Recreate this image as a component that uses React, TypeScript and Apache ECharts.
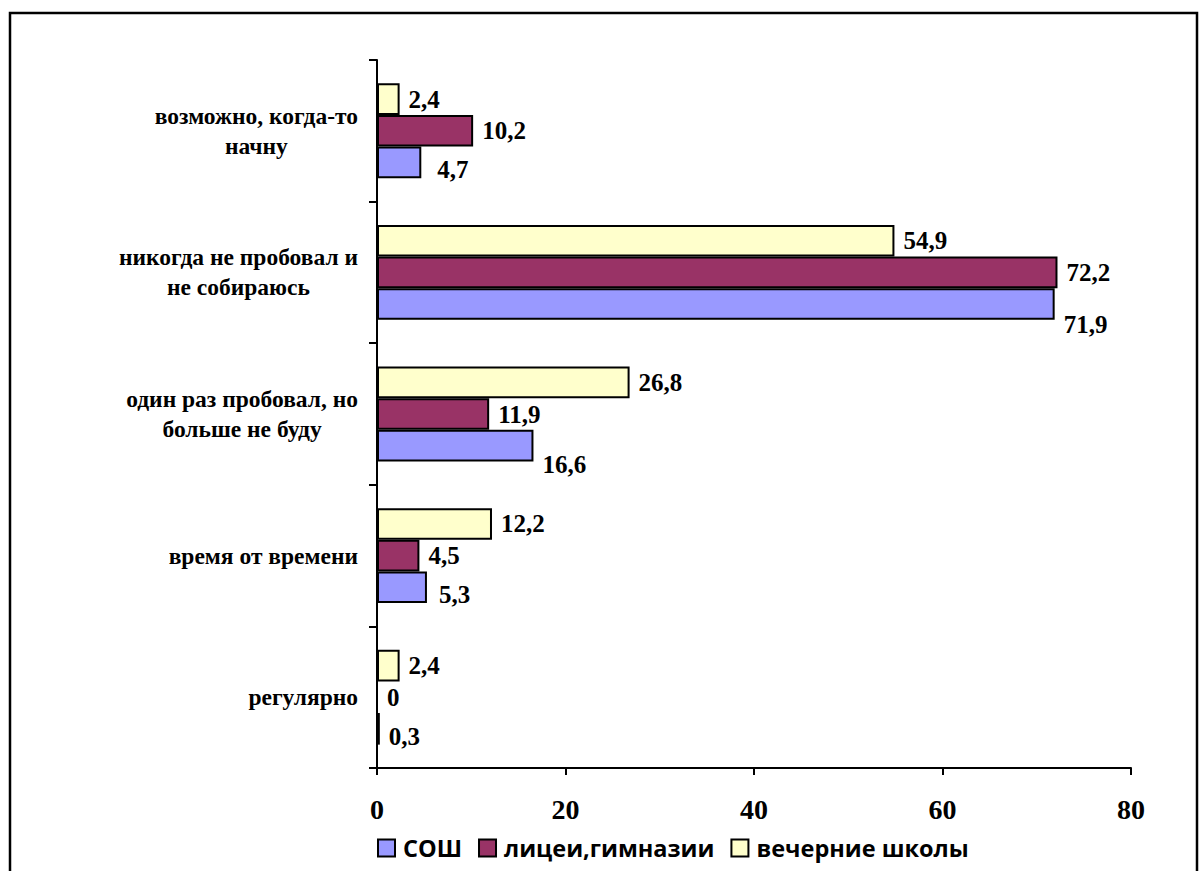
import React, { useEffect, useRef } from "react";
import * as echarts from "echarts";

const categories = [
  "регулярно",
  "время от времени",
  "один раз пробовал, но\nбольше не буду",
  "никогда не пробовал и\nне собираюсь",
  "возможно, когда-то\nначну",
];
const seriesNames = ["СОШ", "лицеи,гимназии", "вечерние школы"];
const soshValues = [0.3, 5.3, 16.6, 71.9, 4.7];
const liceiValues = [0, 4.5, 11.9, 72.2, 10.2];
const vechernieValues = [2.4, 12.2, 26.8, 54.9, 2.4];
const xTicks = { min: 0, max: 80, interval: 20 };

const colors = ["#9999FF", "#993366", "#FFFFCC"];
// label nudges for the first series (as placed in the original)
const soshLabelNudge = [[0, 8], [3, 7], [0, 19], [0, 20], [7, 7]];

const serif = "'Liberation Serif', 'Times New Roman', serif";

export default function App() {
  const ref = useRef<HTMLDivElement>(null);
  useEffect(() => {
    if (!ref.current) return;
    const chart = echarts.init(ref.current, null, { renderer: "svg" });
    const fmt = (p: any) => String(p.value).replace(".", ",");
    const labelBase = {
      show: true,
      position: "right" as const,
      distance: 9,
      color: "#000",
      fontFamily: serif,
      fontWeight: "bold" as const,
      fontSize: 25,
      formatter: fmt,
    };
    const allValues = [soshValues, liceiValues, vechernieValues];
    const series = allValues
      .map((vals, si) => ({
        name: seriesNames[si],
        type: "bar",
        barGap: "0%",
        barCategoryGap: "33%",
        itemStyle: { color: colors[si], borderColor: "#000", borderWidth: 2 },
        label: labelBase,
        data: vals.map((v, i) =>
          si === 0 ? { value: v, label: { offset: soshLabelNudge[i] } } : v
        ),
      }))
      .reverse();
    chart.setOption({
      animation: false,
      backgroundColor: "#fff",
      graphic: [
        {
          type: "rect",
          silent: true,
          shape: { x: 10, y: 13, width: 1187, height: 900 },
          style: { fill: "none", stroke: "#000", lineWidth: 2.5 },
        },
      ],
      grid: { left: 377, right: 69, top: 60, bottom: 103, containLabel: false },
      legend: {
        data: seriesNames,
        left: 372,
        top: 831,
        icon: "rect",
        itemWidth: 17,
        itemHeight: 17,
        itemGap: 16,
        itemStyle: { borderColor: "#000", borderWidth: 2 },
        textStyle: {
          fontFamily: "'Open Sans', sans-serif",
          fontWeight: "bold",
          fontSize: 23.5,
          color: "#000",
          padding: [0, 0, 0, 3],
        },
      },
      xAxis: {
        type: "value",
        min: xTicks.min,
        max: xTicks.max,
        interval: xTicks.interval,
        axisLine: { show: true, lineStyle: { color: "#000", width: 2 } },
        axisTick: { show: true, length: 7, lineStyle: { color: "#000", width: 2 } },
        splitLine: { show: false },
        axisLabel: {
          color: "#000",
          fontFamily: serif,
          fontWeight: "bold",
          fontSize: 28,
          margin: 27,
        },
      },
      yAxis: {
        type: "category",
        data: categories,
        axisLine: { show: true, lineStyle: { color: "#000", width: 2 } },
        axisTick: { show: true, length: 8, lineStyle: { color: "#000", width: 2 } },
        axisLabel: {
          margin: 19,
          align: "right",
          formatter: (v: string) =>
            v
              .split("\n")
              .map((l) => `{c|${l}}`)
              .join("\n"),
          rich: {
            c: {
              align: "center",
              color: "#000",
              fontFamily: serif,
              fontWeight: "bold",
              fontSize: 23.5,
              lineHeight: 30,
            },
          },
        },
      },
      series,
    });
    return () => chart.dispose();
  }, []);
  return (
    <div
      ref={ref}
      style={{ position: "absolute", left: 0, top: 0, width: 1200, height: 871 }}
    />
  );
}
